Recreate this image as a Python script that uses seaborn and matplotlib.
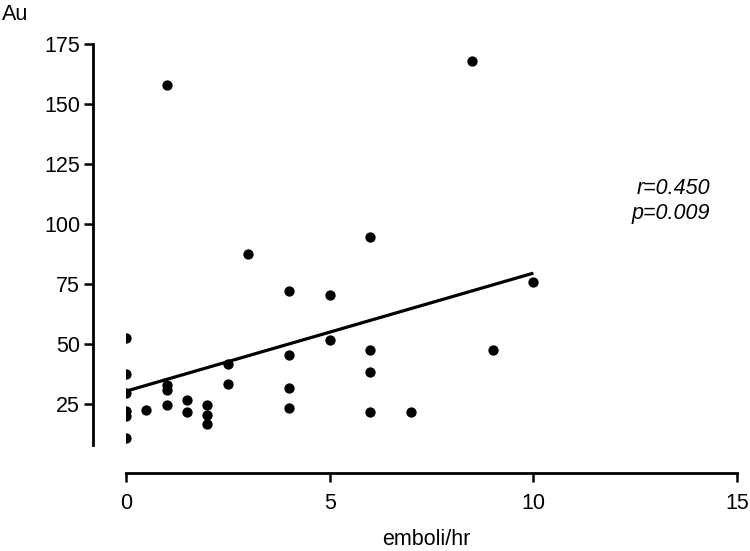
import numpy as np
import pandas as pd
import seaborn as sns
import matplotlib
matplotlib.use("Agg")
import matplotlib.pyplot as plt

# emboli/hr vs Au
emboli = [0, 0, 0, 0, 0, 0,
          0.5,
          1, 1, 1, 1,
          1.5, 1.5,
          2, 2, 2,
          2.5, 2.5,
          3,
          4, 4, 4, 4,
          5, 5,
          6, 6, 6, 6,
          7, 8.5, 9, 10]
au = [52.5, 37.5, 29.5, 22, 20, 11,
      22.5,
      158, 33, 31, 24.5,
      26.5, 21.5,
      24.5, 20.5, 16.5,
      41.5, 33.5,
      87.5,
      72, 45.5, 31.5, 23.5,
      70.5, 51.5,
      94.5, 47.5, 38.5, 21.5,
      21.5, 168, 47.5, 76]
x_ticks = [0, 5, 10, 15]
y_ticks = [25, 50, 75, 100, 125, 150, 175]
stats_text = "r=0.450\np=0.009"

df = pd.DataFrame({"emboli": emboli, "au": au})

sns.set_style("ticks")
plt.rcParams['font.family'] = ['Liberation Sans', 'DejaVu Sans']
plt.rcParams['text.color'] = 'black'

fig = plt.figure(figsize=(7.5, 5.51), dpi=100)
ax = fig.add_axes([0.168, 0.1927, 0.8147, 0.7274])

sns.regplot(data=df, x="emboli", y="au", ax=ax, ci=None, color="black",
            scatter_kws={"s": 55, "linewidths": 0, "alpha": 1, "zorder": 3},
            line_kws={"lw": 2.3, "solid_capstyle": "butt"})

ax.set_xlim(0, 15)
ax.set_ylim(8, 175)
ax.set_xticks(x_ticks)
ax.set_yticks(y_ticks)
ax.set_xlabel("")
ax.set_ylabel("")

# GraphPad style offset axes
sns.despine(ax=ax)
ax.spines['left'].set_position(('outward', 23.5))
ax.spines['bottom'].set_position(('outward', 20))
for s in ['left', 'bottom']:
    ax.spines[s].set_linewidth(2.0)
    ax.spines[s].set_color('black')
ax.tick_params(axis='both', length=6.5, width=1.8, color='black',
               labelsize=15.5, labelcolor='black')
ax.tick_params(axis='y', pad=3)
ax.tick_params(axis='x', pad=8)

fig.text(0.003, 1 - 20 / 551, "Au", fontsize=15.5, ha='left', va='baseline')
fig.text(0.569, 1 - 545 / 551, "emboli/hr", fontsize=15.5, ha='center', va='baseline')
ax.text(710 / 750, 1 - 201 / 551, stats_text, transform=fig.transFigure,
        fontsize=15.5, style='italic', ha='right', va='center', linespacing=1.25)

fig.savefig("out.png", dpi=100)
